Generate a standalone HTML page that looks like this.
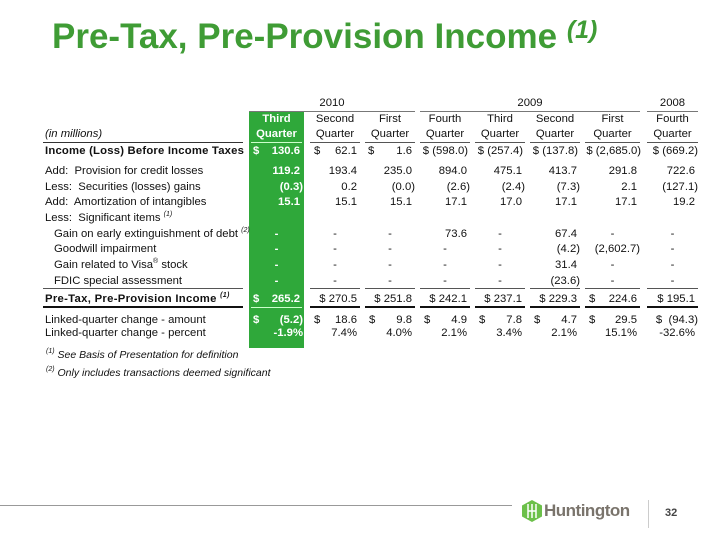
<!DOCTYPE html>
<html><head><meta charset="utf-8"><style>
body{margin:0;width:720px;height:540px;background:#fff;position:relative;overflow:hidden;font-family:"Liberation Sans",Arial,sans-serif;color:#111}
.a{position:absolute;white-space:nowrap}
.t{left:52px;top:17px;font-size:35px;font-weight:bold;color:#3f9c35}
.t i{font-size:25px;vertical-align:10px;line-height:0}
.g{position:absolute;left:249px;top:111px;width:55px;height:237px;background:#2fa83a}
.r{position:absolute;left:0;width:720px;height:14px;font-size:11.3px;line-height:14px}
.r .l{position:absolute;left:45px}
.r .c{position:absolute;text-align:right}
.r .d{position:absolute}
.hl{position:absolute;height:1px;background:#555}
.th{position:absolute;height:2px;background:#111}
.w{color:#fff;font-weight:bold}
sup{font-size:7px;font-style:italic;line-height:0;vertical-align:5px}
</style></head><body>
<div class="a t">Pre-Tax, Pre-Provision Income <i>(1)</i></div>
<div class="g"></div>
<div class="r" style="top:96px"><span class="c" style="left:249px;width:166px;text-align:center">2010</span><span class="c" style="left:420px;width:220px;text-align:center">2009</span><span class="c" style="left:647px;width:51px;text-align:center">2008</span></div>
<div class="hl" style="left:249px;width:166px;top:111px;background:#777"></div>
<div class="hl" style="left:420px;width:220px;top:111px;background:#777"></div>
<div class="hl" style="left:647px;width:51px;top:111px;background:#777"></div>
<div class="r" style="top:112px">
<span class="c w" style="left:249px;width:55px;text-align:center">Third</span>
<span class="c" style="left:310px;width:50px;text-align:center">Second</span>
<span class="c" style="left:365px;width:50px;text-align:center">First</span>
<span class="c" style="left:420px;width:50px;text-align:center">Fourth</span>
<span class="c" style="left:475px;width:50px;text-align:center">Third</span>
<span class="c" style="left:530px;width:50px;text-align:center">Second</span>
<span class="c" style="left:585px;width:55px;text-align:center">First</span>
<span class="c" style="left:647px;width:51px;text-align:center">Fourth</span></div>
<div class="r" style="top:127px"><span class="l" style="font-style:italic">(in millions)</span>
<span class="c w" style="left:249px;width:55px;text-align:center">Quarter</span>
<span class="c" style="left:310px;width:50px;text-align:center">Quarter</span>
<span class="c" style="left:365px;width:50px;text-align:center">Quarter</span>
<span class="c" style="left:420px;width:50px;text-align:center">Quarter</span>
<span class="c" style="left:475px;width:50px;text-align:center">Quarter</span>
<span class="c" style="left:530px;width:50px;text-align:center">Quarter</span>
<span class="c" style="left:585px;width:55px;text-align:center">Quarter</span>
<span class="c" style="left:647px;width:51px;text-align:center">Quarter</span></div>
<div class="hl" style="left:43px;width:200px;top:142px;background:#333"></div>
<div class="hl" style="left:310px;width:50px;top:142px"></div><div class="hl" style="left:365px;width:50px;top:142px"></div><div class="hl" style="left:420px;width:50px;top:142px"></div><div class="hl" style="left:475px;width:50px;top:142px"></div><div class="hl" style="left:530px;width:50px;top:142px"></div><div class="hl" style="left:585px;width:55px;top:142px"></div><div class="hl" style="left:647px;width:51px;top:142px"></div>
<div class="hl" style="left:251px;width:51px;top:142px;background:#cfc"></div>

<div class="r" style="top:144px;font-weight:bold"><span class="l" style="letter-spacing:0.2px">Income (Loss) Before Income Taxes</span>
<span class="d w" style="left:253px">$</span><span class="c w" style="left:249px;width:51px">130.6</span>
<span class="d" style="left:314px;font-weight:normal">$</span><span class="c" style="left:310px;width:47px;font-weight:normal">62.1</span>
<span class="d" style="left:368px;font-weight:normal">$</span><span class="c" style="left:365px;width:47px;font-weight:normal">1.6</span>
<span class="c" style="left:420px;width:48px;font-weight:normal">$ (598.0)</span>
<span class="c" style="left:475px;width:48px;font-weight:normal">$ (257.4)</span>
<span class="c" style="left:530px;width:48px;font-weight:normal">$ (137.8)</span>
<span class="c" style="left:585px;width:56px;font-weight:normal">$ (2,685.0)</span>
<span class="c" style="left:647px;width:51px;font-weight:normal">$ (669.2)</span></div>

<div class="r" style="top:164px"><span class="l">Add:&nbsp; Provision for credit losses</span><span class="c w" style="left:249px;width:51px">119.2</span><span class="c" style="left:310px;width:47px">193.4</span><span class="c" style="left:365px;width:47px">235.0</span><span class="c" style="left:420px;width:47px">894.0</span><span class="c" style="left:475px;width:47px">475.1</span><span class="c" style="left:530px;width:47px">413.7</span><span class="c" style="left:585px;width:52px">291.8</span><span class="c" style="left:647px;width:48px">722.6</span></div>
<div class="r" style="top:180px"><span class="l">Less:&nbsp; Securities (losses) gains</span><span class="c w" style="left:249px;width:54px">(0.3)</span><span class="c" style="left:310px;width:47px">0.2</span><span class="c" style="left:365px;width:50px">(0.0)</span><span class="c" style="left:420px;width:50px">(2.6)</span><span class="c" style="left:475px;width:50px">(2.4)</span><span class="c" style="left:530px;width:50px">(7.3)</span><span class="c" style="left:585px;width:52px">2.1</span><span class="c" style="left:647px;width:51px">(127.1)</span></div>
<div class="r" style="top:195px"><span class="l">Add:&nbsp; Amortization of intangibles</span><span class="c w" style="left:249px;width:51px">15.1</span><span class="c" style="left:310px;width:47px">15.1</span><span class="c" style="left:365px;width:47px">15.1</span><span class="c" style="left:420px;width:47px">17.1</span><span class="c" style="left:475px;width:47px">17.0</span><span class="c" style="left:530px;width:47px">17.1</span><span class="c" style="left:585px;width:52px">17.1</span><span class="c" style="left:647px;width:48px">19.2</span></div>
<div class="r" style="top:211px"><span class="l">Less:&nbsp; Significant items <sup>(1)</sup></span></div>
<div class="r" style="top:227px"><span class="l" style="left:54px">Gain on early extinguishment of debt <sup>(2)</sup></span><span class="c w" style="left:249px;width:55px;text-align:center">-</span><span class="c" style="left:310px;width:50px;text-align:center">-</span><span class="c" style="left:365px;width:50px;text-align:center">-</span><span class="c" style="left:420px;width:47px">73.6</span><span class="c" style="left:475px;width:50px;text-align:center">-</span><span class="c" style="left:530px;width:47px">67.4</span><span class="c" style="left:585px;width:55px;text-align:center">-</span><span class="c" style="left:647px;width:51px;text-align:center">-</span></div>
<div class="r" style="top:242px"><span class="l" style="left:54px">Goodwill impairment</span><span class="c w" style="left:249px;width:55px;text-align:center">-</span><span class="c" style="left:310px;width:50px;text-align:center">-</span><span class="c" style="left:365px;width:50px;text-align:center">-</span><span class="c" style="left:420px;width:50px;text-align:center">-</span><span class="c" style="left:475px;width:50px;text-align:center">-</span><span class="c" style="left:530px;width:50px">(4.2)</span><span class="c" style="left:585px;width:55px">(2,602.7)</span><span class="c" style="left:647px;width:51px;text-align:center">-</span></div>
<div class="r" style="top:258px"><span class="l" style="left:54px">Gain related to Visa<sup style="font-style:normal">®</sup> stock</span><span class="c w" style="left:249px;width:55px;text-align:center">-</span><span class="c" style="left:310px;width:50px;text-align:center">-</span><span class="c" style="left:365px;width:50px;text-align:center">-</span><span class="c" style="left:420px;width:50px;text-align:center">-</span><span class="c" style="left:475px;width:50px;text-align:center">-</span><span class="c" style="left:530px;width:47px">31.4</span><span class="c" style="left:585px;width:55px;text-align:center">-</span><span class="c" style="left:647px;width:51px;text-align:center">-</span></div>
<div class="r" style="top:274px"><span class="l" style="left:54px">FDIC special assessment</span><span class="c w" style="left:249px;width:55px;text-align:center">-</span><span class="c" style="left:310px;width:50px;text-align:center">-</span><span class="c" style="left:365px;width:50px;text-align:center">-</span><span class="c" style="left:420px;width:50px;text-align:center">-</span><span class="c" style="left:475px;width:50px;text-align:center">-</span><span class="c" style="left:530px;width:50px">(23.6)</span><span class="c" style="left:585px;width:55px;text-align:center">-</span><span class="c" style="left:647px;width:51px;text-align:center">-</span></div>
<div class="hl" style="left:43px;width:200px;top:288px"></div>
<div class="hl" style="left:310px;width:50px;top:288px"></div><div class="hl" style="left:365px;width:50px;top:288px"></div><div class="hl" style="left:420px;width:50px;top:288px"></div><div class="hl" style="left:475px;width:50px;top:288px"></div><div class="hl" style="left:530px;width:50px;top:288px"></div><div class="hl" style="left:585px;width:55px;top:288px"></div><div class="hl" style="left:647px;width:51px;top:288px"></div>

<div class="r" style="top:292px"><span class="l" style="font-weight:bold;letter-spacing:0.3px">Pre-Tax, Pre-Provision Income <sup>(1)</sup></span><span class="d w" style="left:253px">$</span><span class="c w" style="left:249px;width:51px">265.2</span><span class="c" style="left:310px;width:47px">$ 270.5</span><span class="c" style="left:365px;width:47px">$ 251.8</span><span class="c" style="left:420px;width:47px">$ 242.1</span><span class="c" style="left:475px;width:47px">$ 237.1</span><span class="c" style="left:530px;width:47px">$ 229.3</span><span class="d" style="left:589px">$</span><span class="c" style="left:585px;width:52px">224.6</span><span class="c" style="left:647px;width:48px">$ 195.1</span></div>
<div class="th" style="left:43px;width:200px;top:306px"></div>
<div class="th" style="left:310px;width:50px;top:306px"></div><div class="th" style="left:365px;width:50px;top:306px"></div><div class="th" style="left:420px;width:50px;top:306px"></div><div class="th" style="left:475px;width:50px;top:306px"></div><div class="th" style="left:530px;width:50px;top:306px"></div><div class="th" style="left:585px;width:55px;top:306px"></div><div class="th" style="left:647px;width:51px;top:306px"></div>
<div class="hl" style="left:251px;width:51px;top:307px;background:#cfc"></div>

<div class="r" style="top:313px"><span class="l">Linked-quarter change - amount</span><span class="d w" style="left:253px">$</span><span class="c w" style="left:249px;width:54px">(5.2)</span><span class="d" style="left:314px">$</span><span class="c" style="left:310px;width:47px">18.6</span><span class="d" style="left:369px">$</span><span class="c" style="left:365px;width:47px">9.8</span><span class="d" style="left:424px">$</span><span class="c" style="left:420px;width:47px">4.9</span><span class="d" style="left:479px">$</span><span class="c" style="left:475px;width:47px">7.8</span><span class="d" style="left:534px">$</span><span class="c" style="left:530px;width:47px">4.7</span><span class="d" style="left:589px">$</span><span class="c" style="left:585px;width:52px">29.5</span><span class="c" style="left:647px;width:51px">$&nbsp; (94.3)</span></div>
<div class="r" style="top:326px"><span class="l">Linked-quarter change - percent</span><span class="c w" style="left:249px;width:54px">-1.9%</span><span class="c" style="left:310px;width:47px">7.4%</span><span class="c" style="left:365px;width:47px">4.0%</span><span class="c" style="left:420px;width:47px">2.1%</span><span class="c" style="left:475px;width:47px">3.4%</span><span class="c" style="left:530px;width:47px">2.1%</span><span class="c" style="left:585px;width:52px">15.1%</span><span class="c" style="left:647px;width:48px">-32.6%</span></div>

<div class="r" style="top:348px;font-style:italic;font-size:10.5px"><span class="l" style="left:46px"><sup>(1)</sup> See Basis of Presentation for definition</span></div>
<div class="r" style="top:366px;font-style:italic;font-size:10.5px"><span class="l" style="left:46px"><sup>(2)</sup> Only includes transactions deemed significant</span></div>

<div class="hl" style="left:0;width:512px;top:505px;background:#999"></div>
<svg class="a" style="left:522px;top:500px" width="20" height="22" viewBox="0 0 20 22"><polygon points="10,0 20,5.5 20,16.5 10,22 0,16.5 0,5.5" fill="#6cc04a"/><path d="M6 4v14M10 4v14M14 4v14M6 11h8" stroke="#fff" stroke-width="1.5" fill="none"/></svg>
<div class="a" style="left:544px;top:501px;font-size:17px;font-weight:bold;color:#7a746c;letter-spacing:-0.5px">Huntington</div>
<div class="hl" style="left:648px;top:500px;width:1px;height:28px;background:#ccc"></div>
<div class="a" style="left:665px;top:507px;font-size:11px;font-weight:bold;color:#444">32</div>
</body></html>
